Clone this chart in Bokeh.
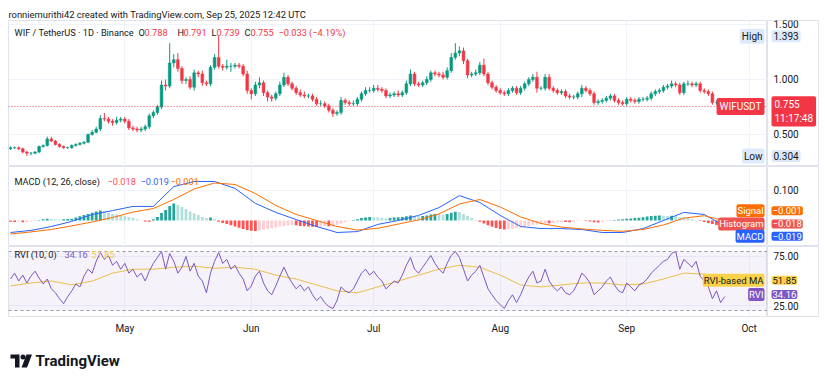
import pandas as pd
from bokeh.plotting import figure
from bokeh.layouts import column, row
from bokeh.core.properties import value
from bokeh.models import (Range1d, FixedTicker, DatetimeTickFormatter, Label, Span,
                          BoxAnnotation, Grid)
from bokeh.embed import file_html
from bokeh.resources import INLINE

FONT = "Roboto"
TXT = "#131722"
UP = "#089981"
DN = "#f23645"
GRID = "#f0f3fa"
EDGE = "#e0e3eb"
HEAD = "9.2px"

# ---------------- data ----------------
start_date = "2025-04-03"
first_open = 0.37
closes = [0.38, 0.38, 0.37, 0.34, 0.33, 0.33, 0.34, 0.39, 0.40, 0.46,
          0.44, 0.41, 0.39, 0.38, 0.38, 0.40, 0.41, 0.42, 0.43, 0.50,
          0.52, 0.55, 0.645, 0.64, 0.62, 0.61, 0.63, 0.64, 0.62, 0.56,
          0.55, 0.54, 0.55, 0.57, 0.67, 0.70, 0.75, 0.95, 0.94, 1.15,
          1.18, 1.10, 0.99, 1.00, 0.93, 1.06, 1.05, 0.97, 0.96, 1.11,
          1.20, 1.12, 1.11, 1.12, 1.12, 1.13, 1.12, 1.05, 0.90, 0.87,
          0.95, 0.97, 0.88, 0.84, 0.83, 0.87, 0.95, 1.02, 0.96, 0.92,
          0.88, 0.86, 0.85, 0.85, 0.82, 0.78, 0.78, 0.76, 0.72, 0.69,
          0.70, 0.81, 0.79, 0.78, 0.78, 0.82, 0.87, 0.90, 0.90, 0.92,
          0.91, 0.90, 0.85, 0.86, 0.87, 0.86, 0.88, 0.96, 1.05, 0.96,
          0.95, 0.97, 1.00, 1.06, 1.05, 1.04, 1.02, 1.08, 1.20, 1.24,
          1.26, 1.17, 1.04, 1.05, 1.06, 1.13, 1.05, 0.97, 0.93, 0.90,
          0.88, 0.87, 0.90, 0.92, 0.88, 0.92, 0.96, 1.00, 1.02, 0.92,
          0.92, 1.02, 0.92, 0.90, 0.88, 0.89, 0.85, 0.84, 0.84, 0.87,
          0.92, 0.90, 0.87, 0.79, 0.80, 0.81, 0.83, 0.85, 0.81, 0.79,
          0.78, 0.82, 0.81, 0.80, 0.82, 0.82, 0.83, 0.87, 0.89, 0.90,
          0.93, 0.94, 0.96, 0.95, 0.88, 0.96, 0.96, 0.95, 0.96, 0.90,
          0.89, 0.87, 0.79, 0.79, 0.788, 0.755]
wick_up = [0.01, 0.01, 0.01, 0.01, 0.01, 0.01, 0.01, 0.01, 0.01, 0.02,
           0.02, 0.01, 0.01, 0.01, 0.01, 0.01, 0.01, 0.01, 0.01, 0.01,
           0.02, 0.02, 0.03, 0.05, 0.02, 0.02, 0.03, 0.02, 0.02, 0.02,
           0.02, 0.02, 0.02, 0.02, 0.02, 0.02, 0.02, 0.04, 0.05, 0.18,
           0.05, 0.06, 0.02, 0.02, 0.03, 0.03, 0.02, 0.03, 0.02, 0.02,
           0.03, 0.193, 0.02, 0.06, 0.03, 0.02, 0.02, 0.02, 0.03, 0.02,
           0.03, 0.05, 0.02, 0.02, 0.02, 0.02, 0.03, 0.04, 0.02, 0.02,
           0.02, 0.03, 0.03, 0.02, 0.02, 0.02, 0.03, 0.02, 0.02, 0.02,
           0.02, 0.03, 0.02, 0.02, 0.03, 0.02, 0.02, 0.03, 0.03, 0.03,
           0.03, 0.02, 0.02, 0.02, 0.02, 0.03, 0.02, 0.03, 0.04, 0.02,
           0.02, 0.02, 0.03, 0.02, 0.02, 0.02, 0.03, 0.03, 0.04, 0.09,
           0.04, 0.03, 0.02, 0.02, 0.03, 0.03, 0.06, 0.02, 0.02, 0.02,
           0.02, 0.02, 0.02, 0.02, 0.02, 0.02, 0.02, 0.02, 0.03, 0.05,
           0.02, 0.03, 0.03, 0.02, 0.02, 0.02, 0.02, 0.02, 0.02, 0.02,
           0.03, 0.02, 0.02, 0.02, 0.02, 0.02, 0.02, 0.02, 0.02, 0.02,
           0.02, 0.02, 0.02, 0.02, 0.02, 0.02, 0.02, 0.02, 0.02, 0.02,
           0.02, 0.02, 0.03, 0.02, 0.02, 0.02, 0.03, 0.02, 0.02, 0.02,
           0.02, 0.02, 0.02, 0.02, 0.015, 0.003]
wick_dn = [0.01, 0.01, 0.01, 0.01, 0.026, 0.02, 0.01, 0.01, 0.01, 0.01,
           0.01, 0.01, 0.01, 0.01, 0.01, 0.01, 0.01, 0.01, 0.01, 0.01,
           0.01, 0.01, 0.02, 0.02, 0.02, 0.03, 0.02, 0.02, 0.02, 0.02,
           0.02, 0.02, 0.02, 0.02, 0.02, 0.02, 0.02, 0.02, 0.04, 0.02,
           0.04, 0.03, 0.03, 0.03, 0.02, 0.03, 0.03, 0.03, 0.02, 0.02,
           0.02, 0.02, 0.03, 0.02, 0.05, 0.02, 0.02, 0.02, 0.03, 0.05,
           0.02, 0.03, 0.03, 0.04, 0.03, 0.02, 0.02, 0.02, 0.02, 0.02,
           0.02, 0.02, 0.02, 0.02, 0.02, 0.02, 0.02, 0.02, 0.02, 0.03,
           0.02, 0.02, 0.02, 0.02, 0.02, 0.02, 0.02, 0.02, 0.02, 0.02,
           0.02, 0.02, 0.02, 0.02, 0.02, 0.02, 0.02, 0.02, 0.02, 0.02,
           0.02, 0.02, 0.02, 0.02, 0.02, 0.02, 0.02, 0.02, 0.02, 0.02,
           0.03, 0.03, 0.03, 0.02, 0.02, 0.02, 0.02, 0.02, 0.02, 0.02,
           0.02, 0.02, 0.02, 0.02, 0.02, 0.02, 0.02, 0.02, 0.02, 0.04,
           0.02, 0.02, 0.02, 0.02, 0.02, 0.02, 0.02, 0.02, 0.02, 0.02,
           0.03, 0.02, 0.02, 0.02, 0.02, 0.02, 0.02, 0.02, 0.02, 0.02,
           0.02, 0.02, 0.02, 0.02, 0.02, 0.02, 0.02, 0.02, 0.02, 0.02,
           0.02, 0.02, 0.02, 0.02, 0.02, 0.02, 0.02, 0.02, 0.02, 0.02,
           0.02, 0.02, 0.02, 0.02, 0.02, 0.016]

# MACD and signal, one reading every 5 days
macd_5d = [-0.040, -0.033, -0.020, -0.003, 0.020, 0.033, 0.047, 0.047, 0.113, 0.130,
           0.130, 0.107, 0.057, 0.027, 0.003, -0.020, -0.040, -0.037, -0.013, 0.000,
           0.017, 0.043, 0.083, 0.060, 0.017, -0.020, -0.027, -0.027, -0.030, -0.040,
           -0.040, -0.027, 0.000, 0.027, 0.020, -0.019]
signal_5d = [-0.045, -0.038, -0.030, -0.018, -0.005, 0.010, 0.028, 0.040, 0.070, 0.105,
             0.125, 0.120, 0.090, 0.050, 0.020, 0.000, -0.020, -0.032, -0.026, -0.012,
             0.002, 0.022, 0.055, 0.070, 0.045, 0.012, -0.010, -0.022, -0.028, -0.033,
             -0.036, -0.030, -0.015, 0.008, 0.016, -0.001]
hist = [-0.004, -0.005, -0.004, -0.006, -0.005, -0.003, -0.002, 0.002, 0.004, 0.006,
        0.005, 0.004, 0.003, 0.004, 0.005, 0.006, 0.010, 0.014, 0.018, 0.022,
        0.026, 0.030, 0.033, 0.030, 0.026, 0.022, 0.020, 0.017, 0.014, 0.012,
        0.009, 0.004, 0.001, -0.003, -0.004, 0.004, 0.012, 0.025, 0.035, 0.048,
        0.057, 0.052, 0.045, 0.038, 0.030, 0.024, 0.018, 0.012, 0.008, 0.010,
        0.006, -0.004, -0.008, -0.012, -0.016, -0.020, -0.024, -0.028, -0.032, -0.034,
        -0.035, -0.033, -0.031, -0.028, -0.026, -0.023, -0.020, -0.018, -0.016, -0.015,
        -0.016, -0.018, -0.019, -0.020, -0.021, -0.022, -0.020, -0.018, -0.019, -0.017,
        -0.014, -0.010, -0.006, -0.002, 0.002, 0.004, 0.008, 0.010, 0.012, 0.011,
        0.010, 0.008, 0.007, 0.008, 0.010, 0.011, 0.012, 0.014, 0.017, 0.015,
        0.014, 0.015, 0.017, 0.020, 0.022, 0.021, 0.020, 0.022, 0.026, 0.029,
        0.028, 0.022, 0.015, 0.008, 0.002, -0.004, -0.010, -0.016, -0.021, -0.025,
        -0.028, -0.030, -0.029, -0.028, -0.026, -0.024, -0.021, -0.018, -0.014, -0.013,
        -0.012, -0.009, -0.009, -0.008, -0.006, -0.005, -0.005, -0.006, -0.004, -0.002,
        -0.001, -0.002, -0.003, -0.006, -0.007, -0.005, -0.002, 0.001, 0.002, 0.003,
        0.004, 0.006, 0.007, 0.008, 0.009, 0.011, 0.013, 0.015, 0.016, 0.017,
        0.016, 0.015, 0.016, 0.014, 0.011, 0.010, 0.008, 0.005, 0.002, -0.002,
        -0.005, -0.008, -0.012, -0.015, -0.017, -0.018]
rvi = [52, 58, 50, 56, 48, 55, 60, 53, 47, 52,
       42, 38, 32, 27, 34, 40, 47, 44, 55, 62,
       58, 70, 79, 72, 76, 66, 70, 62, 68, 58,
       62, 54, 58, 50, 60, 68, 74, 80, 62, 78,
       70, 58, 64, 75, 60, 68, 55, 50, 38, 58,
       70, 79, 68, 72, 62, 66, 58, 52, 40, 45,
       55, 60, 48, 40, 36, 45, 55, 64, 55, 48,
       42, 46, 40, 44, 36, 30, 34, 28, 24, 22,
       30, 44, 40, 38, 42, 50, 58, 62, 56, 60,
       54, 50, 42, 46, 50, 48, 56, 66, 74, 62,
       58, 64, 70, 76, 68, 62, 58, 68, 76, 80,
       74, 62, 50, 56, 60, 66, 54, 42, 36, 30,
       26, 22, 30, 36, 28, 36, 46, 54, 60, 48,
       50, 62, 50, 44, 40, 44, 38, 36, 40, 48,
       58, 54, 48, 36, 40, 44, 50, 54, 46, 40,
       38, 48, 44, 40, 46, 48, 52, 58, 62, 66,
       70, 72, 78, 80, 62, 72, 68, 64, 70, 55,
       50, 44, 32, 40, 28, 34.16]
rvi_ma_5d = [45, 48, 50, 46, 50, 58, 62, 62, 64, 65,
             63, 64, 62, 56, 52, 46, 40, 38, 44, 50,
             56, 62, 66, 64, 56, 46, 44, 46, 48, 48,
             46, 47, 52, 58, 57, 51.85]
month_ticks = ["2025-05-01", "2025-06-01", "2025-07-01", "2025-08-01", "2025-09-01", "2025-10-01"]
price_ticks = [0.5, 1.0, 1.5]
macd_ticks = [0.1]
rvi_ticks = [25, 75]


def ms(t):
    return pd.Timestamp(t).value / 1e6


n = len(closes)
dates = pd.date_range(start_date, periods=n, freq="D")
opens = [first_open] + closes[:-1]
highs = [max(o, c) + w for o, c, w in zip(opens, closes, wick_up)]
lows = [min(o, c) - w for o, c, w in zip(opens, closes, wick_dn)]
ccol = [UP if c >= o else DN for o, c in zip(opens, closes)]
hcol = []
prev = 0.0
for h in hist:
    if h >= 0:
        hcol.append("#26a69a" if h > prev else "#b2dfdb")
    else:
        hcol.append("#ffcdd2" if h > prev else "#ff5252")
    prev = h
d5 = dates[::5]

X0 = ms("2025-04-02 12:00")
X1 = ms("2025-10-05 12:00")
xr = Range1d(X0, X1)
month_ms = [ms(m) for m in month_ticks]
DAYW = 0.68 * 86400000
CHART_W = 759
SCALE_W = 51


def chart(frame_h, yr, ticks, top=0, bottom=0, xaxis=False):
    p = figure(frame_width=CHART_W, frame_height=frame_h, x_axis_type="datetime",
               x_range=xr, y_range=yr, output_backend="svg", toolbar_location=None,
               y_axis_location=None, x_axis_location="below" if xaxis else None,
               min_border_left=8, min_border_right=0, min_border_top=top,
               min_border_bottom=bottom, outline_line_color=EDGE,
               background_fill_color="white", border_fill_color="white")
    for g in p.grid:
        g.visible = False
    p.add_layout(Grid(dimension=0, ticker=FixedTicker(ticks=month_ms), grid_line_color=GRID))
    p.add_layout(Grid(dimension=1, ticker=FixedTicker(ticks=ticks), grid_line_color=GRID))
    if xaxis:
        xa = p.xaxis[0]
        xa.ticker = FixedTicker(ticks=month_ms)
        xa.formatter = DatetimeTickFormatter(months="%b", days="%b", hours="%b")
        xa.axis_line_color = None
        xa.major_tick_line_color = None
        xa.minor_tick_line_color = None
        xa.major_tick_out = 0
        xa.major_label_standoff = 6
        xa.major_label_text_font = FONT
        xa.major_label_text_font_size = "10px"
        xa.major_label_text_color = TXT
    return p


def scale(frame_h, yr, ticks, fmt, top=0, bottom=0):
    s = figure(frame_width=SCALE_W, frame_height=frame_h, x_range=Range1d(0, SCALE_W),
               y_range=yr, output_backend="svg", toolbar_location=None,
               x_axis_location=None, y_axis_location=None, min_border_left=0,
               min_border_right=7, min_border_top=top, min_border_bottom=bottom,
               outline_line_color=EDGE, background_fill_color="white",
               border_fill_color="white")
    s.grid.visible = False
    s.text(x=[6] * len(ticks), y=ticks, text=[fmt.format(t) for t in ticks],
           text_font=value(FONT), text_font_size="10px", text_color=TXT,
           text_baseline="middle", text_align="left")
    return s


def lab(p, x, y, text, color=TXT, size="10px", bg=None, align="left", xo=0, yo=0,
        pad=2, style="normal"):
    kw = dict(x=x, y=y, text=text, text_color=color, text_font_size=size, text_font=FONT,
              text_align=align, text_baseline="middle", x_offset=xo, y_offset=yo,
              text_font_style=style)
    if bg is not None:
        kw.update(background_fill_color=bg, background_fill_alpha=1.0, padding=pad,
                  border_radius=2)
    p.add_layout(Label(**kw))


# ---------------- main price pane ----------------
YR1 = Range1d(0.209, 1.536)
p1 = chart(146, YR1, price_ticks, top=20)
s1 = scale(146, YR1, price_ticks, "{:.3f}", top=20)
p1.title.text = "ronniemurithi42 created with TradingView.com, Sep 25, 2025 12:42 UTC"
p1.title.text_font = FONT
p1.title.text_font_size = "9.4px"
p1.title.text_font_style = "normal"
p1.title.text_color = TXT
p1.title.standoff = 2
p1.title.offset = 0

p1.segment(x0=dates, y0=lows, x1=dates, y1=highs, line_color=ccol, line_width=1)
p1.vbar(x=dates, width=DAYW, top=opens, bottom=closes, fill_color=ccol, line_color=ccol,
        line_width=0.5)
p1.add_layout(Span(location=closes[-1], dimension="width", line_color=DN, line_dash="1 2",
                   line_width=1))

lab(p1, X0, YR1.end, "WIF / TetherUS · 1D · Binance", size=HEAD, xo=6, yo=-12)
for xo, t, c in [(130, "O", TXT), (136, "0.788", DN), (169, "H", TXT), (175, "0.791", DN),
                 (203, "L", TXT), (208, "0.739", DN), (236, "C", TXT), (242, "0.755", DN),
                 (270, "\u22120.033 (\u22124.19%)", DN)]:
    lab(p1, X0, YR1.end, t, color=c, size=HEAD, xo=xo, yo=-12)

LIGHTBLUE = "#dde9f9"
lab(p1, X1, closes[-1], "WIFUSDT", color="white", bg=DN, align="right", xo=-3, pad=3)
lab(p1, X1, 1.393, "High", bg=LIGHTBLUE, align="right", xo=-3, pad=2)
lab(p1, X1, 0.304, "Low", bg=LIGHTBLUE, align="right", xo=-3, pad=2)
lab(s1, 0, closes[-1], "0.755\n11:17:48", color="white", bg=DN, xo=4, yo=-5, pad=3)
lab(s1, 0, 1.393, "1.393", bg=LIGHTBLUE, xo=4, pad=2)
lab(s1, 0, 0.304, "0.304", bg=LIGHTBLUE, xo=4, pad=2)

# ---------------- MACD pane ----------------
BLUE = "#2962ff"
ORANGE = "#ff6d00"
HRED = "#ef5350"
YR2 = Range1d(-0.0867, 0.18)
p2 = chart(80, YR2, macd_ticks)
s2 = scale(80, YR2, macd_ticks, "{:.3f}")
p2.vbar(x=dates[:len(hist)], width=DAYW, top=hist, bottom=0, fill_color=hcol, line_color=None)
p2.line(d5, macd_5d, line_color=BLUE, line_width=1)
p2.line(d5, signal_5d, line_color=ORANGE, line_width=1)

lab(p2, X0, YR2.end, "MACD (12, 26, close)", size=HEAD, xo=6, yo=-15)
lab(p2, X0, YR2.end, "\u22120.018", color="#ff5252", size=HEAD, xo=99, yo=-15)
lab(p2, X0, YR2.end, "\u22120.019", color=BLUE, size=HEAD, xo=132, yo=-15)
lab(p2, X0, YR2.end, "\u22120.001", color=ORANGE, size=HEAD, xo=162, yo=-15)

for nm, val, col, yo in [("Signal", -0.001, ORANGE, 10), ("Histogram", -0.018, HRED, 2),
                         ("MACD", -0.019, BLUE, -10)]:
    lab(p2, X1, val, nm, color="white", bg=col, size="9.5px", align="right", xo=-3, yo=yo, pad=1)
    lab(s2, 0, val, "\u2212{:.3f}".format(abs(val)), color="white", bg=col, size="9.5px",
        xo=4, yo=yo, pad=1)

# ---------------- RVI pane ----------------
PURPLE = "#7e57c2"
YELLOW = "#f5c842"
MABOX = "#fad24a"
YR3 = Range1d(13.9, 85.1)
p3 = chart(70, YR3, rvi_ticks, bottom=22, xaxis=True)
s3 = scale(70, YR3, rvi_ticks, "{:.2f}", bottom=22)
p3.add_layout(BoxAnnotation(bottom=20, top=80, fill_color=PURPLE, fill_alpha=0.08, line_color=None))
p3.add_layout(Span(location=80, dimension="width", line_color="#9598a1", line_dash="3 3", line_width=1))
p3.add_layout(Span(location=20, dimension="width", line_color="#9598a1", line_dash="3 3", line_width=1))
p3.line(d5, rvi_ma_5d, line_color=YELLOW, line_width=1)
p3.line(dates[:len(rvi)], rvi, line_color=PURPLE, line_width=1)

lab(p3, X0, YR3.end, "RVI (10, 0)", size=HEAD, xo=6, yo=-8)
lab(p3, X0, YR3.end, "34.16", color=PURPLE, size=HEAD, xo=56, yo=-8)
lab(p3, X0, YR3.end, "51.85", color=YELLOW, size=HEAD, xo=83, yo=-8)
lab(p3, X1, 51.85, "RVI-based MA", bg=MABOX, size="9.5px", align="right", xo=-3, yo=-1, pad=1)
lab(s3, 0, 51.85, "51.85", bg=MABOX, size="9.5px", xo=4, yo=-1, pad=1)
lab(p3, X1, 34.16, "RVI", color="white", bg=PURPLE, size="9.5px", align="right", xo=-3, yo=2, pad=1)
lab(s3, 0, 34.16, "34.16", color="white", bg=PURPLE, size="9.5px", xo=4, yo=2, pad=1)

# ---------------- TradingView footer ----------------
p4 = figure(frame_width=825, frame_height=46, x_range=Range1d(0, 825), y_range=Range1d(0, 46),
            output_backend="svg", toolbar_location=None, x_axis_location=None,
            y_axis_location=None, min_border=0, outline_line_color=None)
p4.grid.visible = False
p4.patch([10, 19, 19, 14.5, 14.5, 10], [30, 30, 17, 17, 26, 26], fill_color=TXT, line_color=None)
p4.scatter([22.5], [27.5], size=5, marker="circle", fill_color=TXT, line_color=None)
p4.patch([26, 31.5, 26.5, 21], [30, 30, 17, 17], fill_color=TXT, line_color=None)
p4.text([35], [23.5], text=["TradingView"], text_font_size="15px", text_font_style="bold",
        text_color=TXT, text_baseline="middle", text_align="left", text_font=value(FONT))

layout = column(row(p1, s1, spacing=0), row(p2, s2, spacing=0), row(p3, s3, spacing=0), p4,
                spacing=0)
open("out.html", "w").write(file_html(layout, INLINE))
